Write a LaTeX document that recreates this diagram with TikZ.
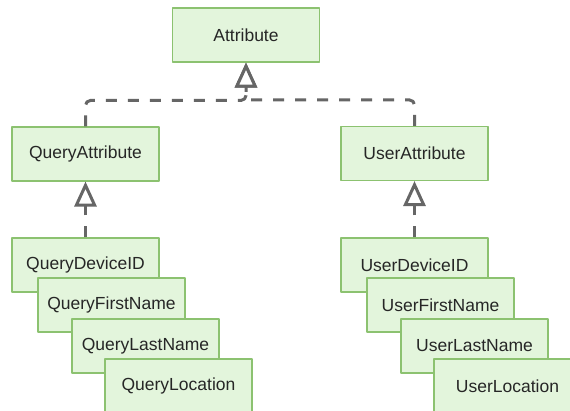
\documentclass[tikz,border=0pt]{standalone}
\usepackage{fontspec}
\setmainfont{Liberation Sans}
\usetikzlibrary{arrows.meta}
\definecolor{boxfill}{HTML}{E3F5DC}
\definecolor{boxline}{HTML}{8CC270}
\definecolor{linkgray}{HTML}{666666}
\begin{document}
\begin{tikzpicture}[x=1pt,y=-1pt,line join=round,font=\fontsize{17.5}{21}\selectfont,
	cls/.style={draw=boxline,fill=boxfill,line width=1.1pt,minimum width=147pt,minimum height=54pt,inner sep=0pt,text=black!85},
	inherit/.style={draw=linkgray,line width=3pt,dash pattern=on 11pt off 11pt,rounded corners=5pt,-{Triangle[open,length=25pt,width=22pt,fill=white]}}]
	\clip (0,0) rectangle (570,411);
	\fill [white] (0,0) rectangle (570,411);
	% top level
	\node [cls] (attr) at (246,35) {Attribute};
	\node [cls] (qattr) at (85.5,154) {QueryAttribute};
	\node [cls] (uattr) at (414.5,153.5) {UserAttribute};
	% query stack
	\node [cls] (qdev) at (85.5,265) {QueryDeviceID};
	\node [cls] (qfirst) at (111.5,305) {QueryFirstName};
	\node [cls] (qlast) at (145.5,346) {QueryLastName};
	\node [cls] (qloc) at (178.5,386) {QueryLocation};
	% user stack
	\node [cls] (udev) at (414.5,265) {UserDeviceID};
	\node [cls] (ufirst) at (440.5,305) {UserFirstName};
	\node [cls] (ulast) at (474.5,346) {UserLastName};
	\node [cls] (uloc) at (507.5,386) {UserLocation};
	% generalisations
	\draw [inherit] (qattr.north) -- ++(0,-26) -| (attr.south);
	\draw [inherit] (uattr.north) -- ++(0,-26) -| (attr.south);
	\draw [inherit] (qdev.north) -- (qattr.south);
	\draw [inherit] (udev.north) -- (uattr.south);
\end{tikzpicture}
\end{document}
